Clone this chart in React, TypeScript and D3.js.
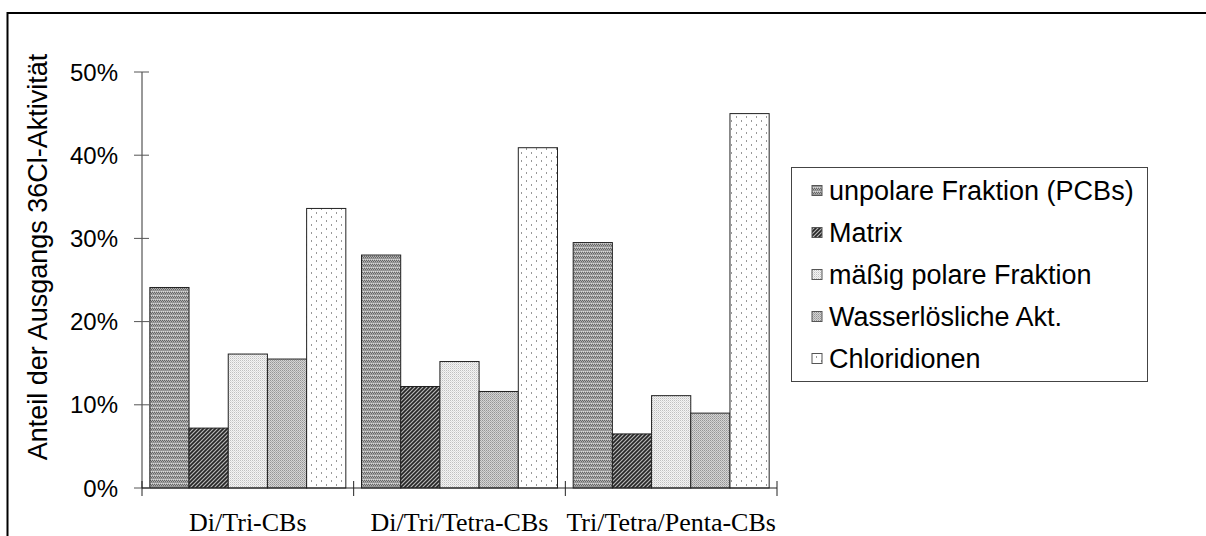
import React from "react";
import * as d3 from "d3";

const categories = ["Di/Tri-CBs", "Di/Tri/Tetra-CBs", "Tri/Tetra/Penta-CBs"];
const seriesNames = [
  "unpolare Fraktion (PCBs)",
  "Matrix",
  "mäßig polare Fraktion",
  "Wasserlösliche Akt.",
  "Chloridionen",
];
const unpolare = [24.1, 28.0, 29.5];
const matrix = [7.2, 12.2, 6.5];
const maessig = [16.1, 15.2, 11.1];
const wasser = [15.5, 11.6, 9.0];
const chlorid = [33.6, 40.9, 45.0];
const yTicks = [0, 10, 20, 30, 40, 50];

const seriesValues = [unpolare, matrix, maessig, wasser, chlorid];
const patternIds = ["p-unpol", "p-matrix", "p-maessig", "p-wasser", "p-chlorid"];

export default function App() {
  const W = 1206;
  const H = 536;
  const x0 = 142;
  const x1 = 777;
  const yBase = 488;
  const yTop = 72;

  const x = d3.scaleBand<string>().domain(categories).range([x0, x1]).paddingInner(0).paddingOuter(0);
  const inner = d3
    .scaleBand<number>()
    .domain(d3.range(seriesNames.length))
    .range([0, x.bandwidth()])
    .paddingOuter(0.2)
    .paddingInner(0);
  const y = d3.scaleLinear().domain([0, 50]).range([yBase, yTop]);

  const sans = "Arial, 'Liberation Sans', sans-serif";
  const serif = "'Times New Roman', 'Liberation Serif', serif";

  const legendX = 791.5;
  const legendY = 167.5;
  const legendW = 356;
  const legendH = 214;
  const legendStep = 42;

  return (
    <svg width={W} height={H} style={{ position: "absolute", left: 0, top: 0 }}>
      <defs>
        <pattern id="p-unpol" width="4" height="4" patternUnits="userSpaceOnUse">
          <rect width="4" height="4" fill="#b0b0b0" />
          <rect x="0" y="0" width="1" height="1" fill="#666" />
          <rect x="2" y="0" width="1" height="1" fill="#666" />
          <rect x="1" y="1" width="1" height="1" fill="#666" />
          <rect x="3" y="1" width="1" height="1" fill="#666" />
          <rect x="0" y="2" width="4" height="1" fill="#959595" />
          <rect x="1" y="3" width="1" height="1" fill="#d8d8d8" />
          <rect x="3" y="3" width="1" height="1" fill="#d8d8d8" />
        </pattern>
        <pattern id="p-matrix" width="4" height="4" patternUnits="userSpaceOnUse">
          <rect width="4" height="4" fill="#b8b8b8" />
          <path d="M0,4 L4,0 M-1,1 L1,-1 M3,5 L5,3" stroke="#262626" strokeWidth="1.7" />
        </pattern>
        <pattern id="p-maessig" width="2" height="2" patternUnits="userSpaceOnUse">
          <rect width="2" height="2" fill="#f4f4f4" />
          <rect x="0" y="0" width="1" height="1" fill="#c0c0c0" />
          <rect x="1" y="1" width="1" height="1" fill="#dcdcdc" />
        </pattern>
        <pattern id="p-wasser" width="2" height="2" patternUnits="userSpaceOnUse">
          <rect width="2" height="2" fill="#d4d4d4" />
          <rect x="0" y="0" width="1" height="1" fill="#959595" />
          <rect x="1" y="1" width="1" height="1" fill="#acacac" />
        </pattern>
        <pattern id="p-chlorid" width="10" height="8" patternUnits="userSpaceOnUse">
          <rect width="10" height="8" fill="#ffffff" />
          <rect x="1" y="0" width="1" height="2" fill="#999" />
          <rect x="6" y="4" width="1" height="2" fill="#999" />
        </pattern>
      </defs>

      {/* outer frame (only top and left visible) */}
      <line x1={7.5} y1={13} x2={W} y2={13} stroke="#000" strokeWidth={2} />
      <line x1={7.5} y1={12} x2={7.5} y2={H} stroke="#000" strokeWidth={2} />

      {/* bars */}
      {categories.map((c, ci) => (
        <g key={c}>
          {seriesValues.map((vals, si) => {
            const bx = (x(c) as number) + (inner(si) as number);
            return (
              <rect
                key={si}
                x={bx}
                y={y(vals[ci])}
                width={inner.bandwidth()}
                height={yBase - y(vals[ci])}
                fill={`url(#${patternIds[si]})`}
                stroke="#222"
                strokeWidth={1}
              />
            );
          })}
        </g>
      ))}

      {/* y axis */}
      <line x1={x0} y1={y(50)} x2={x0} y2={yBase} stroke="#333" strokeWidth={1} />
      {yTicks.map((t) => (
        <g key={t}>
          <line x1={x0 - 8} x2={x0 + 7} y1={y(t)} y2={y(t)} stroke="#555" strokeWidth={1} />
          <text
            x={118}
            y={y(t)}
            textAnchor="end"
            dominantBaseline="central"
            fontFamily={sans}
            fontSize={24}
            fill="#000"
          >
            {`${t}%`}
          </text>
        </g>
      ))}

      {/* x axis */}
      <line x1={x0} y1={yBase} x2={x1} y2={yBase} stroke="#222" strokeWidth={1} />
      {[...categories.map((c) => x(c) as number), x1].map((px, i) => (
        <line key={i} x1={px} x2={px} y1={yBase - 7} y2={yBase + 8} stroke="#222" strokeWidth={1} />
      ))}
      {categories.map((c) => (
        <text
          key={c}
          x={(x(c) as number) + x.bandwidth() / 2}
          y={531}
          textAnchor="middle"
          fontFamily={serif}
          fontSize={26}
          fill="#000"
        >
          {c}
        </text>
      ))}

      {/* y title */}
      <text
        transform={`translate(38, 257) rotate(-90)`}
        textAnchor="middle"
        dominantBaseline="central"
        fontFamily={sans}
        fontSize={27}
        fill="#000"
      >
        Anteil der Ausgangs 36Cl-Aktivität
      </text>

      {/* legend */}
      <rect x={legendX} y={legendY} width={legendW} height={legendH} fill="#fff" stroke="#444" strokeWidth={1} />
      {seriesNames.map((n, i) => {
        const cy = legendY + 23 + i * legendStep;
        return (
          <g key={n}>
            <rect x={812} y={cy - 5} width={10} height={10} fill={`url(#${patternIds[i]})`} stroke="#555" strokeWidth={1} />
            <text x={829} y={cy} dominantBaseline="central" fontFamily={sans} fontSize={27} fill="#000">
              {n}
            </text>
          </g>
        );
      })}
    </svg>
  );
}
